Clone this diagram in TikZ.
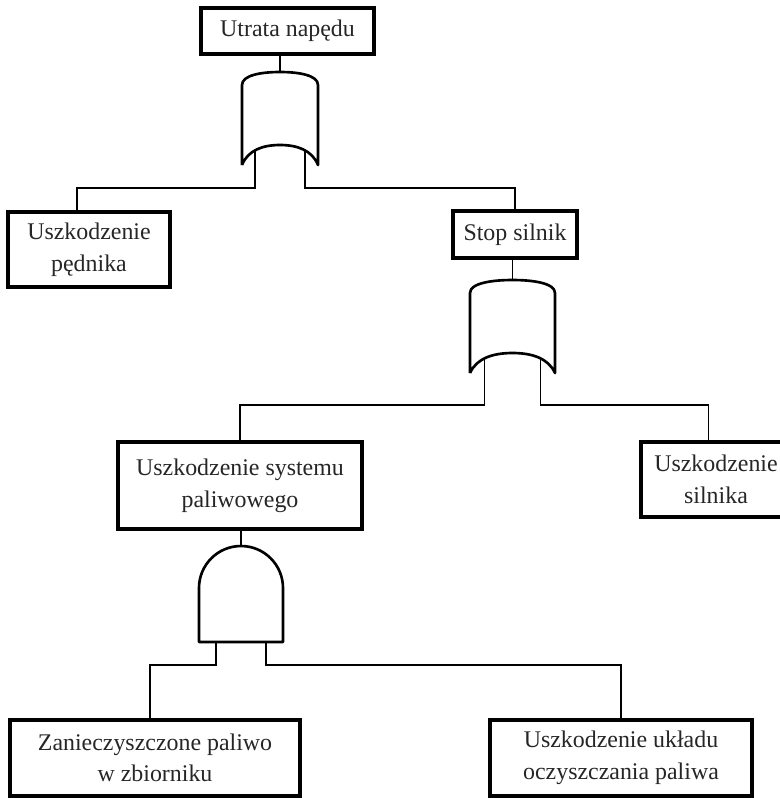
\documentclass[tikz,border=0pt]{standalone}
\usepackage{fontspec}
\setmainfont{Liberation Serif}
\usetikzlibrary{calc}

\tikzset{
  orgate/.pic={
    \draw[gate] (-38,93) -- (-38,13)
      .. controls (-38,3) and (-18,0) .. (0,0)
      .. controls (18,0) and (38,3) .. (38,13) -- (38,93)
      .. controls (32,78) and (17,73) .. (0,73)
      .. controls (-17,73) and (-32,78) .. (-38,93);
    \coordinate (-out) at (0,0);
    \coordinate (-in1) at (-25,79);
    \coordinate (-in2) at (25,79);
  },
  andgate/.pic={
    \draw[gate] (-42,96) -- (-42,42)
      .. controls (-42,18.8) and (-23.2,0) .. (0,0)
      .. controls (23.2,0) and (42,18.8) .. (42,42) -- (42,96) -- cycle;
    \coordinate (-out) at (0,0);
    \coordinate (-in1) at (-25,96);
    \coordinate (-in2) at (25,96);
  }
}

\begin{document}
\begin{tikzpicture}[x=0.02cm, y=-0.02cm,
  box/.style={draw, line width=2pt, align=center, inner sep=0pt,
    text=black!85, font=\fontsize{13.6}{18}\selectfont},
  gate/.style={line width=1.5pt, line join=round},
  wire/.style={line width=0.9pt}]
  \clip (0,0) rectangle (780,798);

  % events
  \node[box, minimum width=3.46cm, minimum height=0.92cm] (top) at (287.5,31) {Utrata napędu};
  \node[box, minimum width=3.24cm, minimum height=1.5cm] (pednik) at (89,249.5) {Uszkodzenie\\pędnika};
  \node[box, minimum width=2.48cm, minimum height=0.94cm] (stop) at (515,234.5) {Stop silnik};
  \node[box, minimum width=4.88cm, minimum height=1.74cm] (systemu) at (240,485.5) {Uszkodzenie systemu\\paliwowego};
  \node[box, minimum width=3.0cm, minimum height=1.5cm] (silnika) at (716,479.5) {Uszkodzenie\\silnika};
  \node[box, minimum width=5.8cm, minimum height=1.52cm] (zbiornik) at (155,758) {Zanieczyszczone paliwo\\w zbiorniku};
  \node[box, minimum width=5.24cm, minimum height=1.52cm] (uklad) at (621,758) {Uszkodzenie układu\\oczyszczania paliwa};

  % gates
  \pic (g1) at (280,72) {orgate};
  \pic[xscale=1.118] (g2) at (512.5,280) {orgate};
  \pic (g3) at (241,546) {andgate};

  % connections
  \draw[wire] (top.south -| g1-out) -- (g1-out);
  \draw[wire] (g1-in1) -- ++(0,37) -| ($(pednik.north west)!0.426!(pednik.north east)$);
  \draw[wire] (g1-in2) -- ++(0,37) -| (stop.north);
  \draw[wire] (stop.south -| g2-out) -- (g2-out);
  \draw[wire] (g2-in1) -- ++(0,46) -| (systemu.north);
  \draw[wire] (g2-in2) -- ++(0,46) -| ($(silnika.north west)!0.45!(silnika.north east)$);
  \draw[wire] (systemu.south -| g3-out) -- (g3-out);
  \draw[wire] (g3-in1) -- ++(0,23) -| ($(zbiornik.north west)!0.483!(zbiornik.north east)$);
  \draw[wire] (g3-in2) -- ++(0,23) -| (uklad.north);
\end{tikzpicture}
\end{document}
